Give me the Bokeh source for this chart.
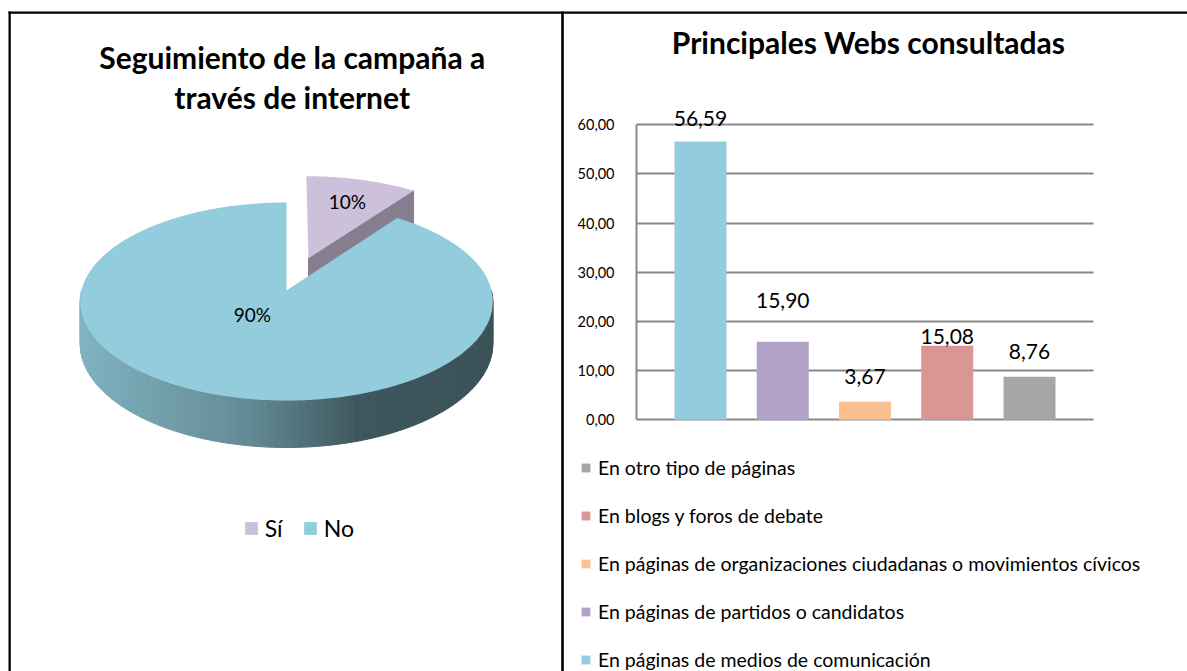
import numpy as np
from bokeh.plotting import figure
from bokeh.models import (Range1d, ColumnDataSource, LabelSet, Legend, LegendItem,
                          FixedTicker, LinearAxis, Grid)
from bokeh.embed import file_html
from bokeh.resources import INLINE
from bokeh.core.properties import value

# ---------------- data ----------------
pie_title_lines = ["Seguimiento de la campaña a", "través de internet"]
pie_labels = ["Sí", "No"]
pie_values = [10, 90]
pie_colors = ["#CCC0DA", "#93CDDD"]
pie_explode = [0.36, 0.0]

bar_title = "Principales Webs consultadas"
bar_categories = [
    "En páginas de medios de comunicación",
    "En páginas de partidos o candidatos",
    "En páginas de organizaciones ciudadanas o movimientos cívicos",
    "En blogs y foros de debate",
    "En otro tipo de páginas",
]
bar_values = [56.59, 15.90, 3.67, 15.08, 8.76]
bar_colors = ["#93CDDD", "#B3A2C7", "#FAC090", "#D99694", "#A6A6A6"]
y_ticks = [0, 10, 20, 30, 40, 50, 60]
y_tick_labels = ["0,00", "10,00", "20,00", "30,00", "40,00", "50,00", "60,00"]

# ---------------- style / layout ----------------
FONT = "Lato"
INK = "#000000"
GRID = "#898989"
W, H = 1187, 671
TITLE_SIZE = "30px"

# bar plot area (page px)
PLOT_L, PLOT_R = 636.0, 1093.0
Y0_PX, YTOP_PX = 419.3, 124.3
XMARGIN = 0.778
BAR_WIDTH = 0.632

# pie labels: (angle deg clockwise from 12h, radius fraction)
pie_label_polar = [(18.0, 0.71), (214.0, 0.29)]
# lift (px) of value labels above the bar tops
value_label_lift = [16, 34, 18, 2, 18]

n = len(bar_values)
x_lo = 1 - XMARGIN
x_hi = n + XMARGIN
ppx = (PLOT_R - PLOT_L) / (x_hi - x_lo)
x_start = x_lo - PLOT_L / ppx
x_end = x_start + W / ppx
ppy = (Y0_PX - YTOP_PX) / y_ticks[-1]
y_start = (Y0_PX - H) / ppy
y_end = Y0_PX / ppy

p = figure(width=W, height=H, x_range=Range1d(x_start, x_end),
           y_range=Range1d(y_start, y_end), min_border=0,
           toolbar_location=None, output_backend="svg",
           x_axis_location=None, y_axis_location=None)
p.grid.visible = False
p.outline_line_color = None
p.background_fill_color = "white"
p.border_fill_color = "white"
p.extra_x_ranges = {"px": Range1d(0, W)}
p.extra_y_ranges = {"py": Range1d(H, 0)}
PXR = dict(x_range_name="px", y_range_name="py")

# ---- table frame lines (top, left, divider)
p.quad(left=[8, 8, 560.7], right=[W, 10.3, 563.3], top=[11, 11, 11],
       bottom=[13.3, H, H], fill_color=INK, line_color=None, **PXR)

# ---- titles
p.text(x=[291.7, 291.7], y=[56, 96.5], text=pie_title_lines, text_align="center",
       text_baseline="alphabetic", text_font=value(FONT), text_font_style="bold",
       text_font_size=TITLE_SIZE, text_color=INK, **PXR)
p.text(x=[868], y=[41], text=[bar_title], text_align="center",
       text_baseline="alphabetic", text_font=value(FONT), text_font_style="bold",
       text_font_size=TITLE_SIZE, text_color=INK, **PXR)

# =============== PIE (3-D look) ===============
CX, CY = 286.0, 290.0
RX, RY, PERSP, DEPTH = 205.0, 97.8, 0.111, 41.8


def proj(u, v, z=0.0):
    s = 1.0 + PERSP * np.asarray(v)
    return CX + RX * np.asarray(u) / s, CY - RY * np.asarray(v) / s + z * DEPTH / s


def shade(hexcol, f):
    rgb = [int(hexcol[i:i + 2], 16) for i in (1, 3, 5)]
    return "#%02x%02x%02x" % tuple(int(round(min(255, c * f))) for c in rgb)


def side_factor(x):
    return float(np.interp(x, [80, 250, 360, 495], [0.87, 0.67, 0.42, 0.40]))


fr = np.array(pie_values, float) / sum(pie_values)
ends = np.cumsum(fr) * 360.0
starts = ends - fr * 360.0

face_renderers = []
for i in range(len(pie_values)):
    a0, a1 = starts[i], ends[i]
    mid = np.radians((a0 + a1) / 2)
    du, dv = pie_explode[i] * np.sin(mid), pie_explode[i] * np.cos(mid)
    wx, wy, wc = [], [], []
    for edge, show in ((a1, a1 <= 180), (a0, a0 >= 180)):
        if not show:
            continue
        e = np.radians(edge)
        eu, ev = np.sin(e) + du, np.cos(e) + dv
        pts = [proj(a, b, c) for a, b, c in
               zip([du, eu, eu, du], [dv, ev, ev, dv], [0, 0, 1, 1])]
        wx.append([float(q[0]) for q in pts])
        wy.append([float(q[1]) for q in pts])
        wc.append(shade(pie_colors[i], 0.655))
    lo, hi = max(a0, 90.0), min(a1, 270.0)
    if hi > lo:
        tt = np.radians(np.linspace(lo, hi, int((hi - lo) / 2) + 2))
        for t0, t1 in zip(tt[:-1], tt[1:]):
            u0, v0 = np.sin(t0) + du, np.cos(t0) + dv
            u1, v1 = np.sin(t1) + du, np.cos(t1) + dv
            pts = [proj(u0, v0, 0), proj(u1, v1, 0), proj(u1, v1, 1), proj(u0, v0, 1)]
            xs = [float(q[0]) for q in pts]
            wx.append(xs)
            wy.append([float(q[1]) for q in pts])
            wc.append(shade(pie_colors[i], side_factor(np.mean(xs))))
    if wx:
        p.patches(wx, wy, fill_color=wc, line_color=wc, line_width=1, **PXR)
    th = np.radians(np.linspace(a0, a1, int(a1 - a0) + 2))
    fx, fy = proj(np.r_[du, np.sin(th) + du], np.r_[dv, np.cos(th) + dv])
    face_renderers.append(p.patch(list(fx), list(fy), fill_color=pie_colors[i],
                                  line_color=None, **PXR))
    ang, rr = pie_label_polar[i]
    a = np.radians(ang)
    lx, ly = proj(rr * np.sin(a) + du, rr * np.cos(a) + dv)
    p.text(x=[float(lx)], y=[float(ly)], text=[f"{pie_values[i]}%"],
           text_align="center", text_baseline="middle",
           text_font=value(FONT), text_font_size="19px", text_color=INK, **PXR)

leg_l = Legend(items=[LegendItem(label=lab, renderers=[face_renderers[i]])
                      for i, lab in enumerate(pie_labels)],
               orientation="horizontal", location=(242.7, H - 542),
               glyph_width=16, glyph_height=16, label_standoff=6, spacing=17,
               padding=0, margin=0, border_line_color=None, background_fill_alpha=0,
               label_text_font=FONT, label_text_font_size="23px",
               label_text_color=INK, label_height=16)
p.add_layout(leg_l)

# =============== BARS ===============
grid_kw = dict(dimension=1, ticker=FixedTicker(ticks=y_ticks),
               grid_line_color=GRID, grid_line_width=2)
if "cross_bounds" in Grid.properties():
    p.add_layout(Grid(cross_bounds=(x_lo, x_hi), **grid_kw))
else:
    p.segment(x0=x_lo, x1=x_hi, y0=y_ticks, y1=y_ticks, line_color=GRID, line_width=2)

yax = LinearAxis(fixed_location=x_lo, bounds=(y_ticks[0], y_ticks[-1]),
                 ticker=FixedTicker(ticks=y_ticks),
                 major_label_overrides={t: lab for t, lab in zip(y_ticks, y_tick_labels)},
                 axis_line_color=GRID, axis_line_width=2,
                 major_tick_line_color=None, minor_tick_line_color=None,
                 major_tick_out=0, major_tick_in=0, major_label_standoff=22,
                 major_label_text_font=FONT, major_label_text_font_size="14.5px",
                 major_label_text_color=INK)
p.add_layout(yax, "left")

src = ColumnDataSource(dict(
    x=list(range(1, n + 1)), top=bar_values, color=bar_colors, cat=bar_categories,
    lab=[f"{v:.2f}".replace(".", ",") for v in bar_values],
    lift=value_label_lift,
))
bars = p.vbar(x="x", top="top", bottom=0, width=BAR_WIDTH, fill_color="color",
              line_color=None, source=src)

p.add_layout(LabelSet(x="x", y="top", text="lab", y_offset="lift", source=src,
                      text_align="center", text_baseline="alphabetic",
                      text_font=value(FONT), text_font_size=value("21px"),
                      text_color=INK))

leg_r = Legend(items=[LegendItem(label=bar_categories[i], renderers=[bars], index=i)
                      for i in reversed(range(n))],
               orientation="vertical", location=(580, 0),
               glyph_width=11, glyph_height=11, label_standoff=7, spacing=24,
               padding=0, margin=0, border_line_color=None, background_fill_alpha=0,
               label_text_font=FONT, label_text_font_size="19.5px",
               label_text_color=INK, label_height=24)
p.add_layout(leg_r)

open("out.html", "w").write(file_html(p, INLINE))
